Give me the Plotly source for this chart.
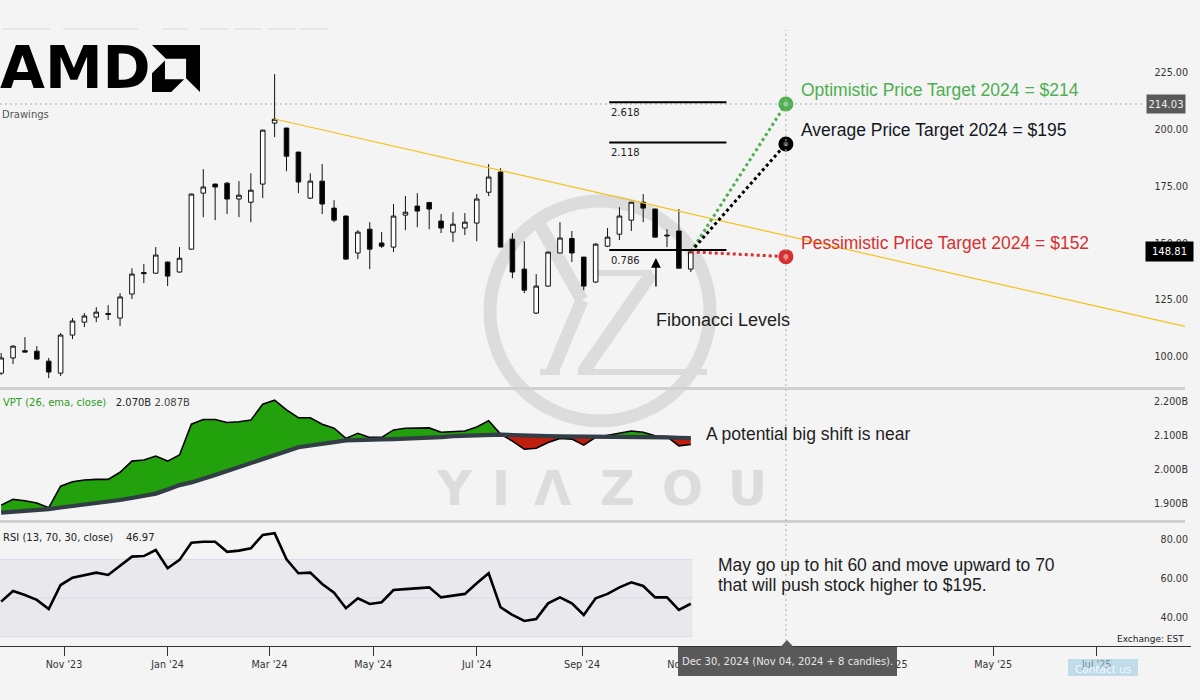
import numpy as np
import pandas as pd
import plotly.graph_objects as go

# ------------------------------------------------------------------ data
first_week = "2023-09-25"   # weekly candles, one per Monday

opens = [95.3, 102.0, 105.2, 105.0, 100.6, 95.3, 112.1, 117.8, 120.0, 121.6,
         119.6, 130.2, 139.7, 139.4, 144.3, 139.9, 150.0, 174.7, 178.7, 179.1,
         172.1, 170.7, 178.7, 205.6, 203.4, 192.8, 172.5, 180.0, 168.1, 164.6,
         148.3, 158.8, 152.7, 150.9, 165.0, 169.0, 170.6, 162.4, 157.5, 159.3,
         161.5, 175.1, 184.0, 154.4, 141.2, 121.8, 133.7, 148.3, 154.7, 146.5,
         135.5, 151.3, 156.6, 162.8, 170.7, 167.7, 156.2, 158.0, 141.2]
highs = [104.2, 107.7, 111.2, 107.2, 102.0, 113.0, 119.6, 121.8, 124.4, 125.3,
         130.6, 141.6, 143.4, 150.9, 144.5, 150.9, 174.5, 185.3, 178.9, 179.6,
         180.0, 183.5, 202.7, 227.2, 203.6, 193.0, 183.5, 187.5, 171.6, 164.8,
         158.4, 161.9, 157.5, 169.9, 173.4, 174.7, 170.7, 165.5, 166.3, 165.9,
         174.3, 187.5, 185.7, 157.1, 153.5, 139.0, 148.9, 161.9, 158.0, 146.6,
         152.7, 159.3, 168.5, 170.8, 174.3, 167.8, 158.8, 167.7, 149.6]
lows = [94.5, 99.3, 104.4, 101.3, 93.1, 94.0, 110.3, 115.6, 117.8, 118.7,
        116.1, 128.0, 135.0, 139.2, 133.7, 139.7, 149.8, 164.1, 162.8, 165.5,
        164.1, 161.9, 172.5, 199.4, 184.4, 174.7, 172.1, 165.5, 161.9, 145.2,
        145.6, 141.2, 150.5, 148.7, 158.4, 159.7, 158.8, 157.1, 153.1, 156.2,
        153.5, 173.4, 150.8, 137.2, 130.6, 121.4, 133.5, 148.2, 144.3, 131.9,
        135.0, 150.9, 154.0, 158.0, 161.9, 155.2, 150.9, 141.5, 139.9]
closes = [102.0, 107.2, 104.6, 101.5, 95.8, 112.1, 118.3, 120.5, 122.2, 121.2,
          128.9, 139.0, 139.2, 147.4, 138.1, 146.0, 174.3, 177.4, 177.4, 172.1,
          173.8, 176.0, 202.5, 207.3, 191.0, 179.6, 180.0, 169.9, 162.8, 145.6,
          157.5, 150.0, 151.3, 164.6, 166.3, 166.8, 167.7, 159.3, 161.0, 161.9,
          172.1, 181.8, 150.9, 139.9, 131.9, 133.7, 148.7, 154.9, 148.3, 133.7,
          152.2, 155.3, 164.6, 170.7, 168.1, 155.3, 155.9, 141.6, 148.81]

vpt_values = [1.895, 1.912, 1.908, 1.901, 1.887, 1.951, 1.964, 1.969, 1.971, 1.971,
              1.992, 2.025, 2.028, 2.040, 2.025, 2.043, 2.134, 2.148, 2.148, 2.139,
              2.141, 2.146, 2.193, 2.205, 2.176, 2.153, 2.153, 2.134, 2.122, 2.092,
              2.107, 2.095, 2.095, 2.117, 2.122, 2.123, 2.123, 2.110, 2.112, 2.114,
              2.126, 2.144, 2.105, 2.084, 2.060, 2.063, 2.080, 2.092, 2.090, 2.072,
              2.095, 2.102, 2.107, 2.114, 2.110, 2.100, 2.097, 2.070, 2.074]
vpt_ema = [1.873, 1.875, 1.878, 1.881, 1.883, 1.888, 1.892, 1.896, 1.899, 1.904,
           1.910, 1.916, 1.922, 1.929, 1.941, 1.954, 1.962, 1.972, 1.984, 1.996,
           2.007, 2.019, 2.030, 2.042, 2.054, 2.066, 2.072, 2.077, 2.081, 2.086,
           2.088, 2.088, 2.089, 2.090, 2.091, 2.093, 2.094, 2.096, 2.099, 2.100,
           2.102, 2.105, 2.103, 2.102, 2.100, 2.099, 2.099, 2.098, 2.098, 2.097,
           2.097, 2.096, 2.096, 2.096, 2.096, 2.096, 2.095, 2.094, 2.093]
rsi_values = [48.1, 53.6, 51.5, 49.0, 44.3, 56.7, 60.5, 61.9, 63.1, 61.9,
              66.5, 71.4, 71.7, 74.8, 65.4, 69.7, 78.6, 79.1, 79.1, 73.9,
              74.5, 75.7, 82.6, 83.5, 70.0, 62.8, 63.1, 57.2, 52.7, 44.7,
              49.8, 46.9, 47.8, 54.1, 54.6, 55.2, 55.5, 50.3, 51.3, 52.1,
              57.6, 62.8, 45.2, 41.2, 38.1, 39.1, 47.2, 50.3, 47.2, 41.2,
              49.8, 52.1, 55.5, 58.1, 56.2, 50.3, 50.3, 43.8, 47.0]

trend_dates = ["2024-03-04 00:00", "2025-08-21 22:00"]
trend_prices = [207.4, 115.9]

fib_labels = ["2.618", "2.118", "0.786"]
fib_prices = [214.8, 197.0, 149.6]
fib_dates = ["2024-09-17", "2024-11-25"]

arrow_date = "2024-10-14 12:00"
arrow_prices = [146.1, 132.9]          # tip, tail

target_date = "2024-12-30"
target_prices = [214.03, 196.4, 146.7]
target_labels = ["Optimistic Price Target 2024 = $214",
                 "Average Price Target 2024 = $195",
                 "Pessimistic Price Target 2024 = $152"]
target_colors = ["#4caf50", "#000000", "#d63030"]
target_inner = ["#8fd692", "#555555", "#f08a8a"]
target_text_colors = ["#4caf50", "#131722", "#d63030"]

hline_price = 214.03
hline_label = "214.03"
last_price_label = "148.81"

x_tick_dates = ["2023-11-01", "2024-01-01", "2024-03-01", "2024-05-01", "2024-07-01",
                "2024-09-01", "2024-11-01", "2025-01-01", "2025-03-01", "2025-05-01",
                "2025-07-01"]
x_tick_labels = ["Nov '23", "Jan '24", "Mar '24", "May '24", "Jul '24", "Sep '24",
                 "Nov '24", "Jan '25", "Mar '25", "May '25", "Jul '25"]
price_ticks = [100, 125, 150, 175, 200, 225]
vpt_ticks = [1.9, 2.0, 2.1, 2.2]
vpt_tick_labels = ["1.900B", "2.000B", "2.100B", "2.200B"]
rsi_ticks = [40, 60, 80]
rsi_levels = [30, 50, 70]

vpt_legend = ("VPT (26, ema, close)", "2.070B", "2.087B")
rsi_legend = ("RSI (13, 70, 30, close)", "46.97")

# ------------------------------------------------------------------ geometry
W_PLOT, H_PLOT = 1191, 646


def px(x):
    return x / W_PLOT


def py(y):
    return (H_PLOT - y) / H_PLOT


x_range = ["2023-09-24 07:45", "2025-08-25 12:00"]
BG = "#f4f4f4"
UI_FONT = "DejaVu Sans"
TXT_FONT = "Liberation Sans, Arial, sans-serif"

dates = pd.date_range(first_week, periods=len(closes), freq="7D")
last_date = dates[-1]
tgt = pd.Timestamp(target_date)

fig = go.Figure()

# ------------------------------------------------------------------ price panel
fig.add_trace(go.Candlestick(
    x=dates, open=opens, high=highs, low=lows, close=closes,
    increasing=dict(line=dict(color="#111111", width=1), fillcolor="#ffffff"),
    decreasing=dict(line=dict(color="#111111", width=1), fillcolor="#000000"),
    whiskerwidth=0, hoverinfo="skip", xaxis="x", yaxis="y"))

fig.add_trace(go.Scatter(
    x=pd.to_datetime(trend_dates, format="ISO8601"), y=trend_prices, mode="lines",
    line=dict(color="#f5c11c", width=1.2), hoverinfo="skip", xaxis="x", yaxis="y"))

for tp, col in zip(target_prices, target_colors):
    fig.add_trace(go.Scatter(
        x=[last_date, tgt], y=[closes[-1], tp], mode="lines",
        line=dict(color=col, width=3, dash="3px,3px"), hoverinfo="skip",
        xaxis="x", yaxis="y"))
fig.add_trace(go.Scatter(
    x=[tgt] * len(target_prices), y=target_prices, mode="markers",
    marker=dict(size=15, color=target_colors, line=dict(width=0)),
    hoverinfo="skip", xaxis="x", yaxis="y", cliponaxis=False))
fig.add_trace(go.Scatter(
    x=[tgt] * len(target_prices), y=target_prices, mode="markers",
    marker=dict(size=5, color=target_inner, line=dict(width=0)),
    hoverinfo="skip", xaxis="x", yaxis="y", cliponaxis=False))

# ------------------------------------------------------------------ VPT panel
tn = dates.asi8.astype(float)
v = np.array(vpt_values)
e = np.array(vpt_ema)
xs, vs, es = [tn[0]], [v[0]], [e[0]]
for i in range(1, len(v)):
    d0, d1 = v[i - 1] - e[i - 1], v[i] - e[i]
    if d0 * d1 < 0:
        f = d0 / (d0 - d1)
        xs.append(tn[i - 1] + f * (tn[i] - tn[i - 1]))
        val = e[i - 1] + f * (e[i] - e[i - 1])
        vs.append(val)
        es.append(val)
    xs.append(tn[i]); vs.append(v[i]); es.append(e[i])
xs = pd.to_datetime(np.array(xs).astype("int64"))
vs, es = np.array(vs), np.array(es)
upper = np.maximum(vs, es)
lower = np.minimum(vs, es)

fig.add_trace(go.Scatter(x=xs, y=es, mode="lines", line=dict(width=0),
                         hoverinfo="skip", xaxis="x", yaxis="y2"))
fig.add_trace(go.Scatter(x=xs, y=upper, mode="lines", line=dict(width=0),
                         fill="tonexty", fillcolor="#22a10c",
                         hoverinfo="skip", xaxis="x", yaxis="y2"))
fig.add_trace(go.Scatter(x=xs, y=es, mode="lines", line=dict(width=0),
                         hoverinfo="skip", xaxis="x", yaxis="y2"))
fig.add_trace(go.Scatter(x=xs, y=lower, mode="lines", line=dict(width=0),
                         fill="tonexty", fillcolor="#bf1e0c",
                         hoverinfo="skip", xaxis="x", yaxis="y2"))
fig.add_trace(go.Scatter(x=dates, y=vpt_values, mode="lines",
                         line=dict(color="#000000", width=1.6),
                         hoverinfo="skip", xaxis="x", yaxis="y2"))
fig.add_trace(go.Scatter(x=dates, y=vpt_ema, mode="lines",
                         line=dict(color="#333d46", width=4.2),
                         hoverinfo="skip", xaxis="x", yaxis="y2"))

# ------------------------------------------------------------------ RSI panel
fig.add_trace(go.Scatter(x=dates, y=rsi_values, mode="lines",
                         line=dict(color="#000000", width=2.6),
                         hoverinfo="skip", xaxis="x", yaxis="y3"))

# ------------------------------------------------------------------ shapes
shapes = []
WM = "#dcdcdc"
# watermark ring + YZ strokes
cx, cy, r = 600, 311, 110
shapes.append(dict(type="circle", xref="paper", yref="paper",
                   x0=px(cx - r), x1=px(cx + r), y0=py(cy + r), y1=py(cy - r),
                   line=dict(color=WM, width=13), layer="below"))
wm_strokes = [((537, 220), (582, 300), 13), ((582, 300), (552, 372), 13),
              ((597, 273), (652, 273), 6), ((652, 273), (583, 372), 13),
              ((578, 372), (707, 372), 6), ((540, 372), (560, 372), 6)]
for (x0, y0), (x1, y1), w in wm_strokes:
    shapes.append(dict(type="line", xref="paper", yref="paper",
                       x0=px(x0), y0=py(y0), x1=px(x1), y1=py(y1),
                       line=dict(color=WM, width=w), layer="below"))

# faint toolbar marks at the very top
for a, b in [(2, 50), (63, 138), (162, 188), (201, 229), (234, 262), (267, 295), (299, 328)]:
    shapes.append(dict(type="line", xref="paper", yref="paper",
                       x0=px(a), x1=px(b), y0=py(29), y1=py(29),
                       line=dict(color="#dadada", width=1)))


# AMD arrow logo
def logo_path(pts):
    s = ""
    for k, (u, w) in enumerate(pts):
        xx, yy = px(152 + u * 0.48), py(45 + w * 0.47)
        s += ("M" if k == 0 else "L") + f"{xx:.5f},{yy:.5f} "
    return s + "Z"


shapes.append(dict(type="path", xref="paper", yref="paper",
                   path=logo_path([(0, 0), (100, 0), (100, 100), (71, 71), (71, 29), (29, 29)]),
                   fillcolor="#000000", line=dict(width=0)))
shapes.append(dict(type="path", xref="paper", yref="paper",
                   path=logo_path([(27, 33), (0, 60), (0, 100), (40, 100), (67, 73), (27, 73)]),
                   fillcolor="#000000", line=dict(width=0)))

# RSI band
band_end = last_date + pd.Timedelta(days=1)
shapes.append(dict(type="rect", xref="x", yref="y3", x0=x_range[0],
                   x1=band_end, y0=rsi_levels[0], y1=rsi_levels[2],
                   fillcolor="#e9e9ed", line=dict(width=0), layer="below"))
for lv in rsi_levels:
    shapes.append(dict(type="line", xref="x", yref="y3", x0=x_range[0],
                       x1=band_end, y0=lv, y1=lv,
                       line=dict(color="#dcd7ea", width=1), layer="below"))

# panel separators
for yy in [388.5, 521.5]:
    shapes.append(dict(type="line", xref="paper", yref="paper", x0=0, x1=px(1185),
                       y0=py(yy), y1=py(yy), line=dict(color="#d0d0d0", width=3)))

# horizontal dotted line at 214.03
shapes.append(dict(type="line", xref="paper", yref="y", x0=0, x1=px(1145),
                   y0=hline_price, y1=hline_price,
                   line=dict(color="#a8a8a8", width=1, dash="2px,3px")))

# vertical dotted line at target date
shapes.append(dict(type="line", xref="x", yref="paper", x0=tgt, x1=tgt,
                   y0=0, y1=py(30), line=dict(color="#b0b0b0", width=1, dash="2px,3px")))

# Fibonacci level lines
for fp in fib_prices:
    shapes.append(dict(type="line", xref="x", yref="y", x0=fib_dates[0], x1=fib_dates[1],
                       y0=fp, y1=fp, line=dict(color="#000000", width=2)))

# tooltip on the time axis
shapes.append(dict(type="rect", xref="paper", yref="paper", x0=px(678), x1=px(897),
                   y0=py(676), y1=py(647), fillcolor="#595959", line=dict(width=0)))
shapes.append(dict(type="path", xref="paper", yref="paper",
                   path=f"M{px(780):.5f},{py(647.5):.5f} L{px(787):.5f},{py(640):.5f} "
                        f"L{px(794):.5f},{py(647.5):.5f} Z",
                   fillcolor="#595959", line=dict(width=0)))
# contact button (semi-transparent, the axis label shows through)
shapes.append(dict(type="rect", xref="paper", yref="paper", x0=px(1068), x1=px(1138),
                   y0=py(676), y1=py(659), fillcolor="#9ccbe0", opacity=0.6,
                   line=dict(width=0)))

# ------------------------------------------------------------------ annotations
ann = []


def text(x, y, s, size=10, color="#333333", family=UI_FONT, xanchor="left", **kw):
    d = dict(xref="paper", yref="paper", x=x, y=y, text=s, showarrow=False,
             xanchor=xanchor, yanchor="middle",
             font=dict(family=family, size=size, color=color))
    d.update(kw)
    ann.append(d)


text(px(-2), py(68), "<b>AMD</b>", size=58, color="#000000")
text(px(0), py(115), "Drawings", size=10, color="#555555")
text(px(1), py(402),
     f"<span style='color:#2e9c1f'>{vpt_legend[0]}</span>&nbsp;&nbsp;&nbsp;"
     f"<span style='color:#222222'>{vpt_legend[1]}</span> "
     f"<span style='color:#444444'>{vpt_legend[2]}</span>", size=10)
text(px(1), py(537), f"{rsi_legend[0]}&nbsp;&nbsp;&nbsp;&nbsp;{rsi_legend[1]}",
     size=10, color="#222222")

for lab, fp in zip(fib_labels, fib_prices):
    ann.append(dict(xref="x", yref="y", x=fib_dates[0], y=fp, yshift=-10, text=lab,
                    showarrow=False, xanchor="left", yanchor="middle",
                    font=dict(family=UI_FONT, size=10, color="#222222")))

ann.append(dict(xref="x", yref="y", x=arrow_date, y=arrow_prices[0],
                axref="x", ayref="y", ax=arrow_date, ay=arrow_prices[1], text="",
                showarrow=True, arrowhead=2, arrowsize=1.4, arrowwidth=1.4,
                arrowcolor="#000000", standoff=0))

text(px(723), py(320), "Fibonacci Levels", size=18, color="#1e1e1e",
     family=TXT_FONT, xanchor="center")

for lab, tp, col in zip(target_labels, target_prices, target_text_colors):
    ann.append(dict(xref="x", yref="y", x=tgt, y=tp, xshift=13, yshift=14,
                    text=lab, showarrow=False, xanchor="left", yanchor="middle",
                    font=dict(family=TXT_FONT, size=17.5, color=col)))

text(px(704), py(434), "A potential big shift is near", size=17.5, color="#1e1e1e",
     family=TXT_FONT)
text(px(716), py(565), "May go up to hit 60 and move upward to 70", size=17.5,
     color="#1e1e1e", family=TXT_FONT)
text(px(716), py(585), "that will push stock higher to $195.", size=17.5,
     color="#1e1e1e", family=TXT_FONT)

text(px(1186), py(639), "Exchange: EST", size=9, color="#222222", xanchor="right")

# price labels on the scale
ann.append(dict(xref="paper", yref="y", x=px(1165.5), y=hline_price, text=hline_label,
                showarrow=False, xanchor="center", yanchor="middle",
                bgcolor="#5a5a5a", width=35, height=15, borderpad=1.5,
                font=dict(family=UI_FONT, size=10, color="#eeeeee")))
ann.append(dict(xref="paper", yref="y", x=px(1169), y=closes[-1], text=last_price_label,
                showarrow=False, xanchor="center", yanchor="middle",
                bgcolor="#000000", width=44, height=16, borderpad=1.5,
                font=dict(family=UI_FONT, size=10, color="#ffffff")))

# time-axis tooltip + contact
text(px(787.5), py(661.5), "Dec 30, 2024 (Nov 04, 2024 + 8 candles).", size=10,
     color="#e6e6e6", xanchor="center")
text(px(1103), py(668.5), "Contact us", size=10.5, color="#f2f9fc", xanchor="center")

# watermark letters
for ch, xc in zip(["Y", "I", "Λ", "Z", "O", "U"], [454, 501, 552, 617, 682, 747]):
    text(px(xc), py(487.5), f"<b>{ch}</b>", size=48, color="#dcdcdc", xanchor="center")

# ------------------------------------------------------------------ layout
axis_font = dict(family=UI_FONT, size=9.6, color="#333333")
fig.update_layout(
    width=1200, height=700,
    margin=dict(l=0, r=9, t=0, b=54, pad=0),
    paper_bgcolor=BG, plot_bgcolor="rgba(0,0,0,0)",
    showlegend=False, hovermode=False,
    boxgap=0.45,
    xaxis=dict(type="date", range=x_range, domain=[0, 1], anchor="y3",
               rangeslider=dict(visible=False), showgrid=False, zeroline=False,
               showline=True, linecolor="#333333", linewidth=1,
               ticks="outside", ticklen=9, tickcolor="#333333", tickwidth=1,
               tickvals=pd.to_datetime(x_tick_dates), ticktext=x_tick_labels,
               tickfont=axis_font),
    yaxis=dict(domain=[py(388), 1], range=[88.75, 259.9], anchor="x", side="right",
               ticklabelposition="inside", tickvals=price_ticks, tickformat=".2f",
               ticklabelshift=-6, showgrid=False, zeroline=False, showline=False,
               ticks="", tickfont=axis_font),
    yaxis2=dict(domain=[py(520), py(390.5)], range=[1.851, 2.2335], anchor="x",
                side="right", ticklabelposition="inside", tickvals=vpt_ticks,
                ticktext=vpt_tick_labels, showgrid=False, zeroline=False,
                ticks="", tickfont=axis_font),
    yaxis3=dict(domain=[0, py(524)], range=[25.14, 88.28], anchor="x", side="right",
                ticklabelposition="inside", tickvals=rsi_ticks, tickformat=".2f",
                showgrid=False, zeroline=False, ticks="", tickfont=axis_font),
    shapes=shapes, annotations=ann,
)

fig.write_html("out.html",
               config={"displayModeBar": False, "staticPlot": True},
               post_script="document.body.style.margin='0px';"
                           "document.body.style.overflow='hidden';")
